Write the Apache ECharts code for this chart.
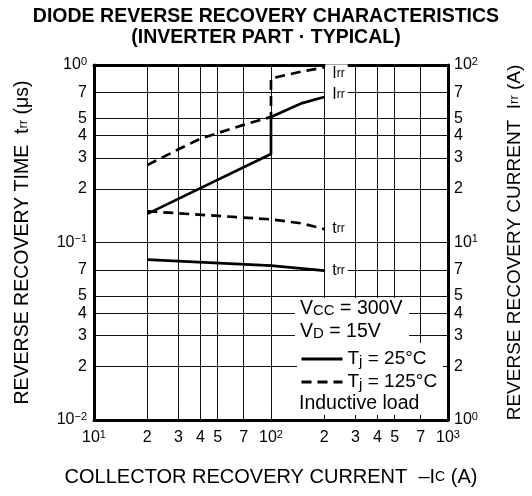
<!DOCTYPE html>
<html><head><meta charset="utf-8">
<script src="https://cdn.jsdelivr.net/npm/echarts@6/dist/echarts.min.js"></script>
<style>html,body{margin:0;padding:0;background:#fff}#c{width:532px;height:496px}</style>
</head><body><div id="c"></div>
<script>
// ---- data ----
const xTicks = [10, 20, 30, 40, 50, 70, 100, 200, 300, 400, 500, 700, 1000];
const trrTicks = [0.01, 0.02, 0.03, 0.04, 0.05, 0.07, 0.1, 0.2, 0.3, 0.4, 0.5, 0.7, 1];
const irrTicks = [1, 2, 3, 4, 5, 7, 10, 20, 30, 40, 50, 70, 100];
// Irr (A) vs -Ic (A)
const irr25 = [[20, 14.5], [100, 31.5], [100, 51], [150, 61], [200, 66]];
const irr125 = [[20, 27.3], [30, 33.5], [40, 38.5], [70, 46], [100, 51], [100, 84], [150, 92], [200, 97]];
// trr (us) vs -Ic (A)
const trr25 = [[20, 0.080], [100, 0.074], [200, 0.0695]];
const trr125 = [[20, 0.150], [100, 0.135], [150, 0.128], [200, 0.119]];

const FONT = 'Liberation Sans, Arial, Helvetica, sans-serif';
const SUP = '\u2212';
function logLabel(v) {
  const e = Math.log10(v);
  const r = Math.round(e);
  if (Math.abs(e - r) < 1e-6) return '{b|10}{s|' + (r < 0 ? SUP + (-r) : r) + '}';
  const m = Math.round(v / Math.pow(10, Math.floor(e + 1e-9)));
  return '{b|' + m + '}';
}
const tickRich = {
  b: { fontSize: 16, fontFamily: FONT, color: '#000', lineHeight: 18 },
  s: { fontSize: 11, fontFamily: FONT, color: '#000', verticalAlign: 'top', lineHeight: 10 }
};
const blackLine = { color: '#000', width: 3 };
const gridLine = { color: '#111', width: 1 };

function endLbl(main, dy) {
  return {
    show: true, formatter: '{a|' + main + '}{r|rr}', distance: 1,
    backgroundColor: '#fff', padding: [1, 3, 1, 7], offset: [0, dy], color: '#000',
    rich: { a: { fontSize: 16, fontFamily: FONT, color: '#000' }, r: { fontSize: 12, fontFamily: FONT, color: '#000' } }
  };
}
const solid = { color: '#000', width: 2.7, type: 'solid' };
const dashed = { color: '#000', width: 2.7, type: [10, 6] };

const chart = echarts.init(document.getElementById('c'), null, { renderer: 'canvas' });
chart.setOption({
  animation: false,
  backgroundColor: '#fff',
  title: {
    text: 'DIODE REVERSE RECOVERY CHARACTERISTICS\n(INVERTER PART \u00b7 TYPICAL)',
    left: 'center', top: 1,
    textStyle: { fontFamily: FONT, fontWeight: 'bold', fontSize: 19.5, lineHeight: 21, color: '#000' }
  },
  grid: { left: 94, top: 65, width: 355, height: 355 },
  legend: {
    data: ['Tj = 25°C', 'Tj = 125°C'], orient: 'vertical', left: 300, top: 349, padding: 0,
    itemWidth: 41, itemHeight: 14, itemGap: 3, selectedMode: false,
    itemStyle: { opacity: 0 },
    lineStyle: { width: 3 },
    formatter: n => '{t|T}{j|j}{t|' + n.slice(2) + '}',
    textStyle: { color: '#000', fontSize: 19, lineHeight: 20, fontFamily: FONT,
      rich: { t: { fontSize: 19, fontFamily: FONT, color: '#000' }, j: { fontSize: 15, fontFamily: FONT, color: '#000', verticalAlign: 'bottom', lineHeight: 16 } } }
  },
  xAxis: [
    {
      type: 'log', logBase: 10, min: 10, max: 1000, position: 'bottom', z: 3,
      axisLine: { show: true, lineStyle: blackLine },
      axisTick: { show: true, inside: true, length: 5, customValues: xTicks, lineStyle: { color: '#000', width: 1 } },
      axisLabel: { customValues: xTicks, formatter: logLabel, rich: tickRich, margin: 9, showMinLabel: true, showMaxLabel: true, hideOverlap: false },
      splitLine: { show: false },
      name: '{n|COLLECTOR RECOVERY CURRENT  \u2013I}{c|C}{n| (A)}', nameLocation: 'middle', nameGap: 47,
      nameTextStyle: { rich: { n: { fontSize: 20, fontFamily: FONT, color: '#000' }, c: { fontSize: 14, fontFamily: FONT, color: '#000' } } }
    },
    {
      type: 'log', logBase: 10, min: 10, max: 1000, position: 'top', z: 0,
      axisLine: { show: true, lineStyle: blackLine },
      axisTick: { show: false, customValues: xTicks },
      axisLabel: { show: false },
      splitLine: { show: true, lineStyle: gridLine }
    }
  ],
  yAxis: [
    {
      type: 'log', logBase: 10, min: 0.01, max: 1, position: 'left', z: 0,
      axisLine: { show: true, lineStyle: blackLine },
      axisTick: { show: false, customValues: trrTicks },
      axisLabel: { customValues: trrTicks, formatter: logLabel, rich: tickRich, margin: 7, showMinLabel: true, showMaxLabel: true, hideOverlap: false },
      splitLine: { show: true, lineStyle: gridLine },
      name: '{n|REVERSE RECOVERY TIME  t}{r|rr}{n| (\u03bcs)}', nameLocation: 'middle', nameGap: 61, nameRotate: 90,
      nameTextStyle: { rich: { n: { fontSize: 19.5, fontFamily: FONT, color: '#000' }, r: { fontSize: 13, fontFamily: FONT, color: '#000' } } }
    },
    {
      type: 'log', logBase: 10, min: 1, max: 100, position: 'right', z: 3,
      axisLine: { show: true, lineStyle: blackLine },
      axisTick: { show: true, inside: true, length: 5, customValues: irrTicks, lineStyle: { color: '#000', width: 1 } },
      axisLabel: { customValues: irrTicks, formatter: logLabel, rich: tickRich, margin: 6, showMinLabel: true, showMaxLabel: true, hideOverlap: false },
      splitLine: { show: false },
      name: '{n|REVERSE RECOVERY CURRENT  I}{r|rr}{n| (A)}', nameLocation: 'middle', nameGap: 57, nameRotate: 90,
      nameTextStyle: { rich: { n: { fontSize: 19, fontFamily: FONT, color: '#000' }, r: { fontSize: 13, fontFamily: FONT, color: '#000' } } }
    }
  ],
  graphic: [
    { type: 'rect', z: 1, shape: { x: 295, y: 298, width: 114, height: 46 }, style: { fill: '#fff' } },
    { type: 'rect', z: 1, shape: { x: 297, y: 343, width: 151, height: 76 }, style: { fill: '#fff' } },
    { type: 'text', z: 5, x: 300, y: 308.5, style: { text: '{v|V}{s|CC}{v| = 300V}', verticalAlign: 'middle',
      rich: { v: { fontSize: 19.5, fontFamily: FONT, fill: '#000' }, s: { fontSize: 15, fontFamily: FONT, fill: '#000', verticalAlign: 'bottom' } } } },
    { type: 'text', z: 5, x: 300, y: 331.5, style: { text: '{v|V}{s|D}{v| = 15V}', verticalAlign: 'middle',
      rich: { v: { fontSize: 19.5, fontFamily: FONT, fill: '#000' }, s: { fontSize: 15, fontFamily: FONT, fill: '#000', verticalAlign: 'bottom' } } } },
    { type: 'text', z: 5, x: 299, y: 404, style: { text: 'Inductive load', verticalAlign: 'middle', font: '19.5px ' + FONT, fill: '#000' } }
  ],
  series: [
    { name: 'Tj = 25°C', type: 'line', xAxisIndex: 0, yAxisIndex: 1, data: irr25, symbol: 'none', lineStyle: solid, itemStyle: { color: '#000' }, endLabel: endLbl('I', -2), z: 4 },
    { name: 'Tj = 125°C', type: 'line', xAxisIndex: 0, yAxisIndex: 1, data: irr125, symbol: 'none', lineStyle: dashed, itemStyle: { color: '#000' }, endLabel: endLbl('I', 6), z: 4 },
    { name: 'Tj = 25°C', type: 'line', xAxisIndex: 0, yAxisIndex: 0, data: trr25, symbol: 'none', lineStyle: solid, itemStyle: { color: '#000' }, endLabel: endLbl('t', 0), z: 4 },
    { name: 'Tj = 125°C', type: 'line', xAxisIndex: 0, yAxisIndex: 0, data: trr125, symbol: 'none', lineStyle: dashed, itemStyle: { color: '#000' }, endLabel: endLbl('t', 0), z: 4 }
  ]
});
</script></body></html>
